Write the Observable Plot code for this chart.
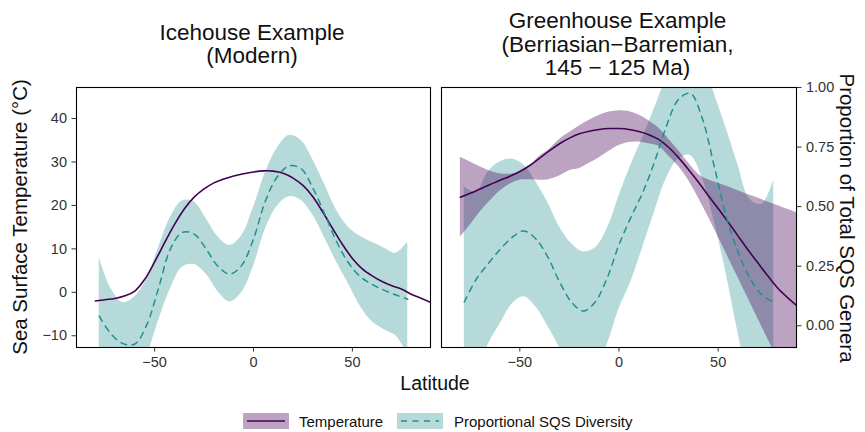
<!DOCTYPE html>
<html><head><meta charset="utf-8">
<script src="https://cdn.jsdelivr.net/npm/d3@7"></script>
<script src="https://cdn.jsdelivr.net/npm/@observablehq/plot@0.6"></script>
<style>
html,body{margin:0;padding:0;background:#fff;}
#wrap{position:relative;width:865px;height:432px;overflow:hidden;background:#fff;}
#wrap > svg{position:absolute;top:0;}
</style></head><body><div id="wrap"></div>
<script>
// ---------- Titles / labels ----------
const titleIce = ["Icehouse Example", "(Modern)"];
const titleGreen = ["Greenhouse Example", "(Berriasian\u2212Barremian,", "145 \u2212 125 Ma)"];
const xLabel = "Latitude";
const yLabelLeft = "Sea Surface Temperature (\u00B0C)";
const yLabelRight = "Proportion of Total SQS Genera";
const legendLabels = ["Temperature", "Proportional SQS Diversity"];
const xTicks = [-50, 0, 50];
const tempTicks = [-10, 0, 10, 20, 30, 40];
const propTicks = [0, 0.25, 0.5, 0.75, 1];

// secondary axis: temperature = offset + scale * proportion
const PROP_OFFSET = -7.7, PROP_SCALE = 54.85;

// ---------- Icehouse (Modern) ----------
const iceTempLat = [-80,-75,-70,-65,-60,-55,-50,-45,-40,-35,-30,-25,-20,-15,-10,-5,0,5,10,15,20,25,30,35,40,45,50,55,60,65,70,75,80,85,90];
const iceTemp    = [-2.0,-1.7,-1.4,-0.8,0.3,3.0,7.0,11.4,15.6,19.2,21.9,23.8,25.2,26.1,26.8,27.3,27.7,27.95,27.9,27.4,26.3,24.6,22.0,18.5,14.7,11.0,7.8,5.4,3.8,2.5,1.5,0.7,-0.5,-1.4,-2.4];

const divLat = [-78,-72,-66,-60,-54,-48,-42,-36,-30,-24,-18,-12,-6,0,6,12,18,24,30,36,42,48,54,60,66,72,78];
// icehouse diversity, in left-axis units
const iceDiv   = [-5.5,-9.6,-11.8,-11.9,-7.5,1.0,10.0,13.8,13.4,10.0,6.0,4.2,6.2,12.3,21.0,26.6,29.1,28.5,24.0,18.0,11.7,6.8,3.6,1.8,0.5,-0.6,-1.6];
const iceDivHi = [8.0,0.8,-2.4,-1.0,3.0,10.3,17.2,21.0,20.8,17.0,12.8,10.8,13.0,19.5,27.5,33.2,36.1,35.0,30.5,24.8,18.9,15.0,12.9,11.5,10.2,9.0,11.6];
const iceDivLo = [-19.5,-19.8,-21.8,-21.5,-15.0,-6.5,0.8,5.8,6.4,4.2,0.2,-2.2,-0.1,6.0,14.5,19.8,22.0,21.2,17.8,12.5,7.0,2.0,-3.2,-6.8,-8.6,-10.0,-14.5];

// ---------- Greenhouse (Berriasian-Barremian) ----------
const grTempLat = [-80,-75,-70,-65,-60,-55,-50,-45,-40,-35,-30,-25,-20,-15,-10,-5,0,5,10,15,20,25,30,35,40,45,50,55,60,65,70,75,80,85,90];
const grTemp   = [21.9,22.8,23.8,24.8,25.8,26.7,27.8,29.2,30.9,32.6,34.2,35.5,36.5,37.1,37.5,37.7,37.7,37.5,37.0,36.3,35.2,33.4,31.0,28.3,25.4,22.3,19.3,16.2,13.0,9.8,6.8,3.8,1.0,-1.2,-3.2];
const grTempHi = [31.1,30.0,28.9,27.9,27.3,27.2,27.7,29.0,31.3,33.0,35.2,36.8,38.3,39.6,40.7,41.5,41.8,41.6,40.8,39.5,37.8,35.3,32.6,29.8,27.2,25.9,25.1,24.3,23.4,22.5,21.7,20.8,20.0,19.1,18.2];
const grTempLo = [12.7,15.5,18.5,21.0,23.3,24.9,25.8,25.9,25.8,26.0,26.8,28.0,28.5,29.7,31.0,32.5,33.8,34.5,34.6,34.2,33.6,31.4,29.0,25.8,21.8,17.4,12.8,8.1,3.4,-1.3,-6.0,-10.7,-15.4,-20.1,-24.8];
// greenhouse diversity, proportion of total SQS genera (right axis)
const grDiv   = [0.10,0.195,0.26,0.32,0.37,0.398,0.365,0.29,0.185,0.10,0.062,0.10,0.20,0.34,0.455,0.56,0.69,0.84,0.95,0.975,0.87,0.67,0.46,0.31,0.20,0.13,0.10];
const grDivHi = [0.585,0.56,0.645,0.688,0.70,0.675,0.605,0.518,0.415,0.345,0.31,0.326,0.406,0.545,0.675,0.79,0.915,1.04,1.13,1.16,1.12,0.975,0.83,0.675,0.53,0.51,0.61];
const grDivLo = [-0.35,-0.2,-0.08,0.007,0.09,0.122,0.08,0.0,-0.09,-0.18,-0.22,-0.18,-0.08,0.07,0.185,0.33,0.48,0.62,0.70,0.715,0.62,0.44,0.22,-0.03,-0.25,-0.38,-0.45];

// ---------- styling ----------
const tempLineColor = "#440154";
const tempFillColor = "#440154";
const divLineColor = "#21908C";
const divFillColor = "#21908C";
const tempAlpha = 0.36, divAlpha = 0.33;
const FONT = "'Liberation Sans', Arial, Helvetica, sans-serif";

const toTemp = p => PROP_OFFSET + PROP_SCALE * p;
const xDomain = [-89.5, 89.5];
const yDomain = [-12.7, 47.15];

const iceTempData = iceTempLat.map((x, i) => ({x, y: iceTemp[i]}));
const iceDivData = divLat.map((x, i) => ({x, y: iceDiv[i], lo: iceDivLo[i], hi: iceDivHi[i]}));
const grTempData = grTempLat.map((x, i) => ({x, y: grTemp[i], lo: grTempLo[i], hi: grTempHi[i]}));
const grDivData = divLat.map((x, i) => ({x, y: toTemp(grDiv[i]), lo: toTemp(grDivLo[i]), hi: toTemp(grDivHi[i])}));

const axisCommon = {tickSize: 4.5, tickPadding: 5, fontSize: 14.5, fill: "#333", stroke: "#333", label: null};
const curve = "catmull-rom";

const left = Plot.plot({
  width: 440, height: 432,
  marginLeft: 76, marginRight: 10, marginTop: 87, marginBottom: 85,
  style: {fontFamily: FONT, background: "transparent", overflow: "visible"},
  x: {domain: xDomain},
  y: {domain: yDomain},
  marks: [
    Plot.areaY(iceDivData, {x: "x", y1: "lo", y2: "hi", fill: divFillColor, fillOpacity: divAlpha, curve, clip: true}),
    Plot.line(iceTempData, {x: "x", y: "y", stroke: tempLineColor, strokeWidth: 1.6, curve, clip: true}),
    Plot.line(iceDivData, {x: "x", y: "y", stroke: divLineColor, strokeWidth: 1.5, strokeDasharray: "6,5.5", curve, clip: true}),
    Plot.axisX({...axisCommon, ticks: xTicks}),
    Plot.axisY({...axisCommon, ticks: tempTicks}),
    Plot.frame({stroke: "black", strokeWidth: 1.1})
  ]
});

const right = Plot.plot({
  width: 435, height: 432,
  marginLeft: 11, marginRight: 69, marginTop: 87, marginBottom: 85,
  style: {fontFamily: FONT, background: "transparent", overflow: "visible"},
  x: {domain: xDomain},
  y: {domain: yDomain},
  marks: [
    Plot.areaY(grDivData, {x: "x", y1: "lo", y2: "hi", fill: divFillColor, fillOpacity: divAlpha, curve, clip: true}),
    Plot.areaY(grTempData, {x: "x", y1: "lo", y2: "hi", fill: tempFillColor, fillOpacity: tempAlpha, curve, clip: true}),
    Plot.line(grTempData, {x: "x", y: "y", stroke: tempLineColor, strokeWidth: 1.6, curve, clip: true}),
    Plot.line(grDivData, {x: "x", y: "y", stroke: divLineColor, strokeWidth: 1.5, strokeDasharray: "6,5.5", curve, clip: true}),
    Plot.axisX({...axisCommon, ticks: xTicks}),
    Plot.axisY(propTicks.map(toTemp), {...axisCommon, anchor: "right",
      tickFormat: d => d3.format(".2f")((d - PROP_OFFSET) / PROP_SCALE)}),
    Plot.frame({stroke: "black", strokeWidth: 1.1})
  ]
});

const wrap = document.getElementById("wrap");
left.style.left = "0px";
right.style.left = "430px";
wrap.appendChild(left);
wrap.appendChild(right);

// ---------- overlay text & legend ----------
const ov = d3.create("svg").attr("width", 865).attr("height", 432)
  .style("position", "absolute").style("left", "0px").style("top", "0px")
  .style("font-family", FONT);

const tIce = ov.append("text").attr("text-anchor", "middle").attr("font-size", 22.5).attr("fill", "#111");
titleIce.forEach((s, i) => tIce.append("tspan").attr("x", 252).attr("y", 40 + i * 23.4).text(s));
const tGr = ov.append("text").attr("text-anchor", "middle").attr("font-size", 22.5).attr("fill", "#111");
titleGreen.forEach((s, i) => tGr.append("tspan").attr("x", 617.5).attr("y", 28.3 + i * 23.4).text(s));

ov.append("text").attr("text-anchor", "middle").attr("font-size", 19.5).attr("fill", "#111")
  .attr("x", 435).attr("y", 390).text(xLabel);
ov.append("text").attr("text-anchor", "middle").attr("font-size", 20.5).attr("fill", "#111")
  .attr("transform", "translate(27,217) rotate(-90)").text(yLabelLeft);
ov.append("text").attr("text-anchor", "middle").attr("font-size", 20.5).attr("fill", "#111")
  .attr("transform", "translate(840,218) rotate(90)").text(yLabelRight);

// legend
const lg = ov.append("g");
const keys = [
  {x: 243, fill: tempFillColor, alpha: tempAlpha, stroke: tempLineColor, dash: null, tx: 299, label: legendLabels[0]},
  {x: 397, fill: divFillColor, alpha: divAlpha, stroke: divLineColor, dash: "6,5.5", tx: 454, label: legendLabels[1]}
];
keys.forEach(k => {
  lg.append("rect").attr("x", k.x).attr("y", 413).attr("width", 46).attr("height", 16)
    .attr("fill", k.fill).attr("fill-opacity", k.alpha);
  lg.append("line").attr("x1", k.x + 4).attr("x2", k.x + 42).attr("y1", 421).attr("y2", 421)
    .attr("stroke", k.stroke).attr("stroke-width", 1.6).attr("stroke-dasharray", k.dash);
  lg.append("text").attr("x", k.tx).attr("y", 426.5).attr("font-size", 15).attr("fill", "#111").text(k.label);
});
wrap.appendChild(ov.node());
</script></body></html>
